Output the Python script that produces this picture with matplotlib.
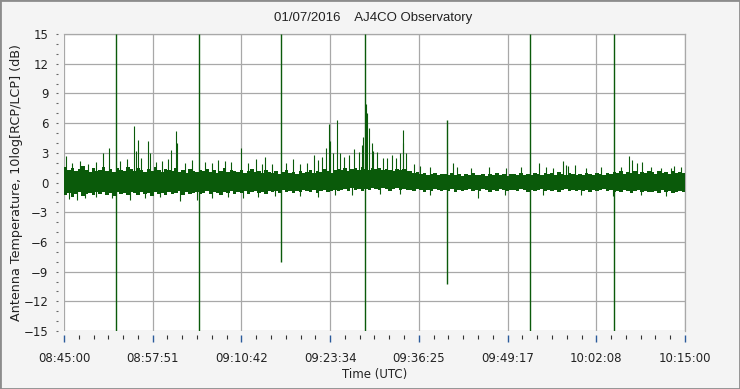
import numpy as np
import matplotlib
matplotlib.use("Agg")
import matplotlib.pyplot as plt
from matplotlib.ticker import FixedLocator, MultipleLocator
from matplotlib.patches import Rectangle

# --- data ---
title = "01/07/2016    AJ4CO Observatory"
t_start = "08:45:00"
t_end = "10:15:00"
tick_labels = ["08:45:00", "08:57:51", "09:10:42", "09:23:34",
               "09:36:25", "09:49:17", "10:02:08", "10:15:00"]

# noise band envelope, one value per 30 s bin (dB)
band_step_s = 30
band_top = [
    1.6, 1.3, 1.5, 1.2, 1.4, 1.7, 1.3, 1.1, 1.5, 1.2,
    1.3, 1.6, 1.2, 1.4, 1.1, 1.5, 1.3, 1.2, 1.6, 1.4,
    1.2, 1.5, 1.3, 1.1, 1.4, 1.2, 1.6, 1.3, 1.1, 1.4,
    1.3, 1.2, 1.5, 1.1, 1.3, 1.0, 1.4, 1.2, 1.1, 1.3,
    1.2, 1.4, 1.1, 1.3, 1.0, 1.2, 1.5, 1.1, 1.3, 1.2,
    1.1, 1.3, 1.0, 1.2, 1.4, 1.1, 1.2, 1.0, 1.3, 1.1,
    1.0, 1.2, 0.9, 1.1, 1.3, 1.0, 1.1, 0.9, 1.2, 1.0,
    1.1, 1.3, 1.0, 1.2, 1.1, 1.4, 1.2, 1.0, 1.3, 1.4,
    1.3, 1.5, 1.2, 1.4, 1.5, 1.3, 1.6, 1.4, 1.3, 1.5,
    1.4, 1.5, 1.3, 1.4, 1.3, 1.2, 1.4, 1.3, 1.4, 1.2,
    1.2, 1.0, 1.1, 0.9, 1.0, 0.8, 0.9, 1.0, 0.8, 0.9,
    0.9, 0.8, 1.0, 0.8, 0.9, 0.7, 0.9, 0.8, 1.0, 0.8,
    0.8, 0.9, 0.7, 0.9, 0.8, 1.0, 0.8, 0.9, 0.7, 0.9,
    0.9, 0.8, 1.0, 0.8, 0.9, 0.8, 1.0, 0.9, 0.8, 1.0,
    0.9, 1.0, 0.8, 1.1, 0.9, 0.8, 1.0, 0.9, 0.8, 0.9,
    0.8, 1.0, 0.9, 0.8, 1.0, 0.9, 0.8, 1.0, 0.9, 1.1,
    1.0, 1.2, 0.9, 1.1, 1.0, 1.2, 0.9, 1.1, 1.0, 1.2,
    1.1, 0.9, 1.2, 1.0, 1.1, 0.9, 1.2, 1.0, 1.1, 1.0,
]
band_bot = [
    -1.3, -1.1, -1.5, -1.2, -1.0, -1.4, -1.2, -1.1, -1.3, -1.0,
    -1.2, -1.0, -1.3, -1.1, -1.4, -1.0, -1.2, -1.1, -1.3, -1.0,
    -1.1, -1.3, -1.0, -1.2, -1.1, -1.4, -1.0, -1.2, -1.1, -1.3,
    -1.0, -1.2, -1.1, -0.9, -1.3, -1.0, -1.2, -1.1, -1.0, -1.2,
    -1.1, -0.9, -1.2, -1.0, -1.1, -1.3, -1.0, -1.1, -0.9, -1.2,
    -1.0, -1.1, -0.9, -1.2, -1.0, -0.9, -1.1, -1.0, -1.2, -0.9,
    -1.0, -0.9, -1.1, -0.8, -1.0, -0.9, -1.1, -0.9, -1.0, -0.8,
    -0.9, -1.0, -0.8, -1.1, -0.9, -0.8, -1.0, -0.9, -0.8, -0.9,
    -0.8, -0.7, -0.9, -0.6, -0.8, -0.7, -0.9, -0.7, -0.8, -0.6,
    -0.7, -0.8, -0.6, -0.7, -0.9, -0.7, -0.6, -0.8, -0.7, -0.8,
    -0.8, -0.9, -0.7, -0.8, -1.0, -0.8, -0.9, -0.7, -0.8, -0.9,
    -0.8, -0.9, -0.7, -1.0, -0.8, -0.9, -0.8, -0.7, -0.9, -0.8,
    -0.9, -0.7, -0.8, -1.0, -0.8, -0.9, -0.7, -0.8, -0.9, -0.8,
    -0.8, -0.9, -0.7, -0.8, -1.0, -0.8, -0.9, -0.8, -0.7, -0.9,
    -0.8, -0.9, -0.8, -1.0, -0.8, -0.7, -0.9, -0.8, -0.9, -0.8,
    -0.9, -0.8, -1.0, -0.8, -0.9, -0.8, -0.7, -0.9, -0.8, -1.0,
    -0.9, -1.0, -0.8, -0.9, -1.1, -0.9, -0.8, -1.0, -0.9, -1.0,
    -1.0, -0.9, -1.1, -0.8, -1.0, -0.9, -1.1, -1.0, -0.9, -1.0,
]

# bursts sticking out of the band
spike_up_t = [
    "08:45:17", "08:46:10", "08:47:20", "08:48:30", "08:49:38", "08:50:40",
    "08:51:32", "08:53:08", "08:54:08", "08:55:10", "08:55:27", "08:55:44",
    "08:56:10", "08:57:12", "08:57:29", "08:58:21", "08:59:13", "09:00:06",
    "09:00:32", "09:01:16", "09:01:24", "09:02:34", "09:03:35", "09:05:28",
    "09:06:29", "09:07:21", "09:08:22", "09:09:14", "09:10:42", "09:11:42",
    "09:12:52", "09:13:44", "09:14:10", "09:15:12", "09:17:14", "09:18:14",
    "09:19:16", "09:20:17", "09:21:17", "09:21:52", "09:22:27", "09:23:02",
    "09:23:28", "09:23:37", "09:24:03", "09:24:38", "09:25:04", "09:25:38",
    "09:26:22", "09:27:06", "09:27:41", "09:28:15", "09:28:24", "09:28:50",
    "09:28:59", "09:29:16", "09:29:34", "09:29:51", "09:30:25", "09:31:10",
    "09:31:53", "09:32:28", "09:33:03", "09:33:46", "09:34:04", "09:34:12",
    "09:34:30", "09:35:40", "09:36:40", "09:38:06", "09:41:19", "09:41:54",
    "09:43:56", "09:46:32", "09:49:01", "09:51:11", "09:53:48", "09:54:49",
    "09:55:50", "09:57:17", "09:57:43", "09:58:01", "09:59:02", "10:00:37",
    "10:02:48", "10:05:42", "10:06:52", "10:07:18", "10:08:02", "10:08:45",
    "10:10:04", "10:11:30", "10:12:58", "10:13:24", "10:14:24",
]
spike_up_v = [
    2.7, 2.0, 2.2, 1.9, 2.1, 3.0,
    3.5, 2.2, 2.4, 5.7, 3.2, 4.3,
    2.5, 4.2, 3.0, 2.1, 2.2, 2.4,
    3.3, 5.2, 4.0, 2.0, 2.3, 2.1,
    2.0, 2.3, 2.2, 2.1, 3.5, 2.0,
    2.4, 1.9, 2.6, 1.9, 2.0, 2.4,
    1.9, 2.0, 2.8, 2.3, 2.6, 3.5,
    5.9, 4.2, 3.0, 6.3, 3.0, 2.6,
    2.8, 3.4, 3.1, 3.8, 4.6, 7.9,
    7.0, 5.5, 4.0, 3.2, 3.1, 2.5,
    2.5, 2.8, 2.5, 3.0, 5.3, 4.0,
    3.0, 1.9, 1.7, 1.6, 2.0, 1.6,
    1.5, 1.6, 1.5, 1.6, 2.0, 1.6,
    1.5, 2.2, 1.8, 1.7, 1.8, 1.5,
    1.6, 1.6, 2.7, 2.3, 2.0, 2.1,
    1.6, 1.5, 1.5, 1.7, 1.6,
]
spike_dn_t = [
    "08:45:44", "08:46:53", "08:48:03", "08:49:38", "08:52:00", "08:54:34",
    "08:56:42", "08:58:55", "09:01:50", "09:04:18", "09:06:29", "09:08:48",
    "09:10:59", "09:13:10", "09:15:38", "09:19:16", "09:21:52", "09:24:20",
    "09:26:48", "09:30:52", "09:33:46", "09:38:06", "09:44:58", "09:48:58",
    "09:54:27", "09:59:56", "10:04:33", "10:08:41", "10:12:19",
]
spike_dn_v = [
    -1.7, -1.8, -1.6, -1.5, -1.6, -1.8,
    -1.6, -1.5, -1.9, -1.8, -1.6, -1.5,
    -1.6, -1.5, -1.4, -1.4, -1.5, -1.3,
    -1.3, -1.2, -1.2, -1.3, -1.6, -1.3,
    -1.3, -1.3, -1.4, -1.3, -1.4,
]

# interference lines crossing the whole trace
marker_t = ["08:52:30", "09:04:30", "09:16:25", "09:28:35",
            "09:40:30", "09:52:30", "10:04:40"]
marker_lo = [-15, -15, -8.0, -15, -10.3, -15, -15]
marker_hi = [15, 15, 15, 15, 6.3, 15, 15]


def to_sec(s):
    h, m, sec = s.split(":")
    return int(h) * 3600 + int(m) * 60 + int(sec)


green = "#0a5a0a"
t0, t1 = to_sec(t_start), to_sec(t_end)

fig = plt.figure(figsize=(7.4, 3.89), dpi=100, facecolor="#f4f4f4")
ax = fig.add_axes([64 / 740, 58 / 389, 621 / 740, 297 / 389])
ax.set_facecolor("white")

# noise band
edges = t0 + band_step_s * np.arange(len(band_top) + 1)
ax.fill_between(edges, band_bot + [band_bot[-1]], band_top + [band_top[-1]],
                step="post", color=green, lw=0, zorder=3)

ax.vlines([to_sec(t) for t in spike_up_t], 0, spike_up_v, color=green, lw=0.8, zorder=3)
ax.vlines([to_sec(t) for t in spike_dn_t], spike_dn_v, 0, color=green, lw=0.8, zorder=3)
ax.vlines([to_sec(t) for t in marker_t], marker_lo, marker_hi, color=green, lw=1.0, zorder=3)

ax.set_xlim(t0, t1)
ax.set_ylim(-15, 15)

# axes / ticks
ax.xaxis.set_major_locator(FixedLocator(np.linspace(t0, t1, len(tick_labels))))
ax.xaxis.set_minor_locator(FixedLocator(np.linspace(t0, t1, 6 * (len(tick_labels) - 1) + 1)))
ax.set_xticklabels(tick_labels)
ax.yaxis.set_major_locator(MultipleLocator(3))
ax.yaxis.set_minor_locator(MultipleLocator(1))

ax.grid(True, which="major", color="#a8a8a8", lw=0.9, zorder=1)
ax.set_axisbelow(True)

for s in ["top", "right"]:
    ax.spines[s].set_color("#a8a8a8")
    ax.spines[s].set_linewidth(0.9)
ax.spines["left"].set_position(("outward", 4))
ax.spines["left"].set_visible(False)
ax.spines["bottom"].set_position(("outward", 3))
ax.spines["bottom"].set_visible(False)

ax.tick_params(axis="x", which="major", length=5, width=1, color="#2a5a9a",
               pad=7, labelsize=8.5, labelcolor="#222222")
ax.tick_params(axis="x", which="minor", length=3, width=0.8, color="#333333")
ax.tick_params(axis="y", which="both", length=1.2, width=0.8, color="#666666",
               pad=6, labelsize=8.5, labelcolor="#222222")

ax.set_xlabel("Time (UTC)", fontsize=8.5, color="#222222", labelpad=2)
ax.set_ylabel("Antenna Temperature, 10log[RCP/LCP] (dB)", fontsize=9.2,
              color="#222222", va="center")
ax.yaxis.set_label_coords(-0.077, 0.5)

fig.text(0.504, 0.953, title, ha="center", va="center", fontsize=9.5,
         family="Liberation Sans", color="#222222")

fig.patches.append(Rectangle((0, 0), 1, 1, transform=fig.transFigure, fill=False,
                             edgecolor="#8c8c8c", lw=2))

fig.savefig("out.png", dpi=100, facecolor=fig.get_facecolor())
